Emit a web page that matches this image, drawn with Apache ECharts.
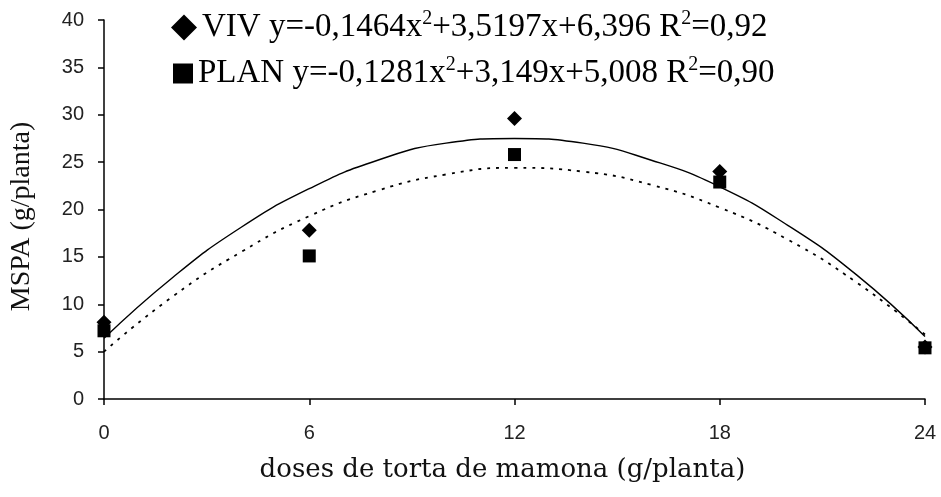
<!DOCTYPE html>
<html>
<head>
<meta charset="utf-8">
<script src="https://cdn.jsdelivr.net/npm/echarts@6/dist/echarts.min.js"></script>
<style>
html,body{margin:0;padding:0;background:#fff;}
#c{width:941px;height:497px;}
</style>
</head>
<body>
<div id="c"></div>
<script>
// Observed doses (x) and measured values
const doses = [0, 6, 12, 18, 24];
const vivValues = [8.1, 17.8, 29.6, 24.0, 5.5];
const planValues = [7.2, 15.1, 25.8, 22.9, 5.4];

// Trend curves
const curveX = [0, 2, 4, 6, 8, 10, 12, 14, 16, 18, 20, 22, 24];
const vivCurve = [6.4, 12.8, 18.1, 22.2, 25.2, 27.0, 27.5, 27.0, 25.2, 22.4, 18.3, 13.1, 6.6];
const planCurve = [5.0, 10.8, 15.5, 19.3, 22.0, 23.7, 24.4, 24.0, 22.6, 20.2, 16.8, 12.3, 6.8];

// Axis ticks
const xTicks = [0, 6, 12, 18, 24];
const yTicks = [0, 5, 10, 15, 20, 25, 30, 35, 40];

// Legend texts (pieces around superscript 2)
const vivEq = ['VIV y=-0,1464x', '+3,5197x+6,396 R', '=0,92'];
const planEq = ['PLAN y=-0,1281x', '+3,149x+5,008 R', '=0,90'];

const xName = 'doses de torta de mamona (g/planta)';
const yName = 'MSPA (g/planta)';

const serif = '"Liberation Serif", "Times New Roman", serif';
const wideSerif = '"DejaVu Serif", serif';
const tickFont = '"Liberation Sans", Arial, sans-serif';

function pairs(xs, ys) { return xs.map((x, i) => [x, ys[i]]); }
function eq(parts) { return '{t|' + parts[0] + '}{s|2}{t|' + parts[1] + '}{s|2}{t|' + parts[2] + '}'; }

const legendText = {
  color: '#000',
  rich: {
    t: {fontFamily: serif, fontSize: 33, color: '#000'},
    s: {fontFamily: serif, fontSize: 20, color: '#000', padding: [0, 0, 17, 0]}
  }
};

const chart = echarts.init(document.getElementById('c'), null, {renderer: 'canvas'});
chart.setOption({
  backgroundColor: '#fff',
  animation: false,
  grid: {left: 102, right: 16, top: 20, bottom: 98},
  legend: [
    {
      data: [{name: 'VIV', icon: 'diamond'}],
      left: 166, top: 4,
      itemWidth: 26, itemHeight: 26, itemGap: 0,
      formatter: () => eq(vivEq),
      textStyle: legendText
    },
    {
      data: [{name: 'PLAN', icon: 'rect'}],
      left: 168, top: 50,
      itemWidth: 20, itemHeight: 20, itemGap: 0,
      formatter: () => eq(planEq),
      textStyle: legendText
    }
  ],
  xAxis: {
    type: 'value', min: 0, max: 24, interval: 6,
    name: xName, nameLocation: 'middle', nameGap: 58,
    nameTextStyle: {fontFamily: wideSerif, fontSize: 26, color: '#111', padding: [0, 24, 0, 0]},
    axisLine: {lineStyle: {color: '#000', width: 1.5}},
    axisTick: {show: true, length: 6, inside: false, lineStyle: {color: '#000', width: 1.5}},
    axisLabel: {fontFamily: tickFont, fontSize: 20, color: '#222', margin: 24,
      formatter: v => xTicks.includes(v) ? String(v) : ''},
    splitLine: {show: false}
  },
  yAxis: {
    type: 'value', min: 0, max: 40, interval: 5,
    name: yName, nameLocation: 'middle', nameGap: 68, nameRotate: 90,
    nameTextStyle: {fontFamily: serif, fontSize: 28, color: '#111', padding: [0, 14, 0, 0]},
    axisLine: {show: true, lineStyle: {color: '#000', width: 1.5}},
    axisTick: {show: true, length: 6, lineStyle: {color: '#000', width: 1.5}},
    axisLabel: {fontFamily: tickFont, fontSize: 20, color: '#222', margin: 20,
      formatter: v => yTicks.includes(v) ? String(v) : ''},
    splitLine: {show: false}
  },
  series: [
    {
      name: 'vivCurve', type: 'line', smooth: true, symbol: 'none',
      data: pairs(curveX, vivCurve),
      lineStyle: {color: '#000', width: 1.4, type: 'solid'}, z: 2
    },
    {
      name: 'planCurve', type: 'line', smooth: true, symbol: 'none',
      data: pairs(curveX, planCurve),
      lineStyle: {color: '#000', width: 1.8, type: [3, 6]}, z: 2
    },
    {
      name: 'VIV', type: 'scatter', symbol: 'diamond', symbolSize: 15,
      itemStyle: {color: '#000', opacity: 1}, data: pairs(doses, vivValues), z: 3
    },
    {
      name: 'PLAN', type: 'scatter', symbol: 'rect', symbolSize: 13,
      itemStyle: {color: '#000', opacity: 1}, data: pairs(doses, planValues), z: 4
    }
  ]
});
</script>
</body>
</html>
